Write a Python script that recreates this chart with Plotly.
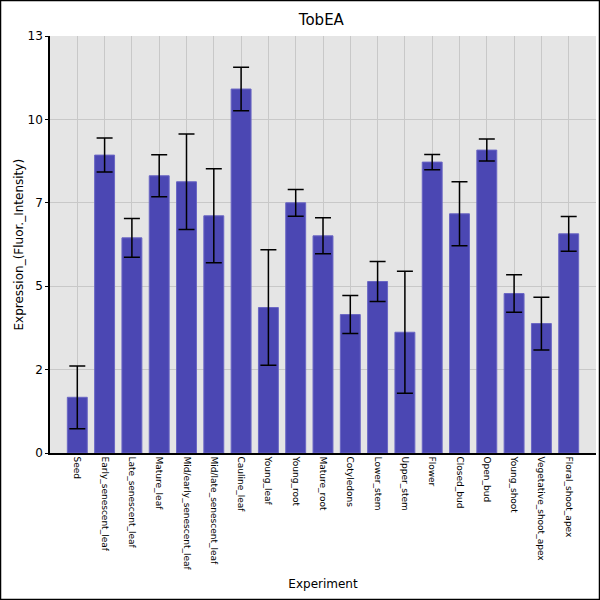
import plotly.graph_objects as go

categories = ["Seed", "Early_senescent_leaf", "Late_senescent_leaf", "Mature_leaf",
              "Mid/early_senescent_leaf", "Mid/late_senescent_leaf", "Cauline_leaf",
              "Young_leaf", "Young_root", "Mature_root", "Cotyledons", "Lower_stem",
              "Upper_stem", "Flower", "Closed_bud", "Open_bud", "Young_shoot",
              "Vegetative_shoot_apex", "Floral_shoot_apex"]
values = [1.67, 8.93, 6.45, 8.31, 8.13, 7.11, 10.91, 4.36, 7.50, 6.51, 4.15, 5.14,
          3.62, 8.72, 7.17, 9.08, 4.78, 3.88, 6.57]
errors = [0.94, 0.51, 0.58, 0.63, 1.43, 1.41, 0.65, 1.73, 0.40, 0.54, 0.57, 0.60,
          1.83, 0.23, 0.96, 0.33, 0.56, 0.79, 0.52]
ytick_vals = [0, 2.5, 5, 7.5, 10, 12.5]
ytick_text = ["0", "2", "5", "7", "10", "13"]

fig = go.Figure(go.Bar(
    x=categories, y=values,
    marker=dict(color="#4b47b3", line=dict(color="#6a66c4", width=1)),
    error_y=dict(type="data", array=errors, color="black", thickness=1.5, width=8),
))

W, H = 600, 600
ml, mr, mt, mb = 50, 4, 36, 147
pw, ph = W - ml - mr, H - mt - mb

fig.update_layout(
    width=W, height=H,
    margin=dict(l=ml, r=mr, t=mt, b=mb, pad=0, autoexpand=False),
    paper_bgcolor="white", plot_bgcolor="#e5e5e5",
    font=dict(family="DejaVu Sans", color="black"),
    title=dict(text="TobEA", x=0.497, xref="paper", xanchor="center", y=0.967, yanchor="middle",
               font=dict(size=15, family="DejaVu Sans", color="black")),
    bargap=0.27,
    showlegend=False,
    xaxis=dict(
        title=dict(text="Experiment", font=dict(size=12), standoff=10),
        automargin=False,
        range=[-1, 19], tickangle=90, tickfont=dict(size=9),
        showgrid=True, gridcolor="#c8c8c8", gridwidth=1,
        showline=True, linecolor="black", linewidth=1.5, ticks="", zeroline=False,
    ),
    yaxis=dict(
        automargin=False,
        range=[0, 12.5], tickvals=ytick_vals, ticktext=ytick_text, tickfont=dict(size=12),
        showgrid=True, gridcolor="#c8c8c8", gridwidth=1,
        showline=True, linecolor="black", linewidth=1.5, ticks="outside", ticklen=3,
        tickcolor="black", zeroline=False,
    ),
    annotations=[dict(text="Expression_(Fluor._Intensity)", xref="paper", yref="paper",
                      x=(18 - ml) / pw, y=0.5, xanchor="center", yanchor="middle",
                      textangle=-90, showarrow=False, font=dict(size=12, color="black"))],
    shapes=[dict(type="rect", xref="paper", yref="paper",
                 x0=(-ml + 0.5) / pw, x1=1 + (mr - 0.5) / pw,
                 y0=(-mb + 0.5) / ph, y1=1 + (mt - 0.5) / ph,
                 line=dict(color="black", width=1.5), fillcolor="rgba(0,0,0,0)", layer="above")],
)

fig.write_html("out.html", config={"displayModeBar": False},
               post_script="document.body.style.margin='0';document.body.style.padding='0';")
